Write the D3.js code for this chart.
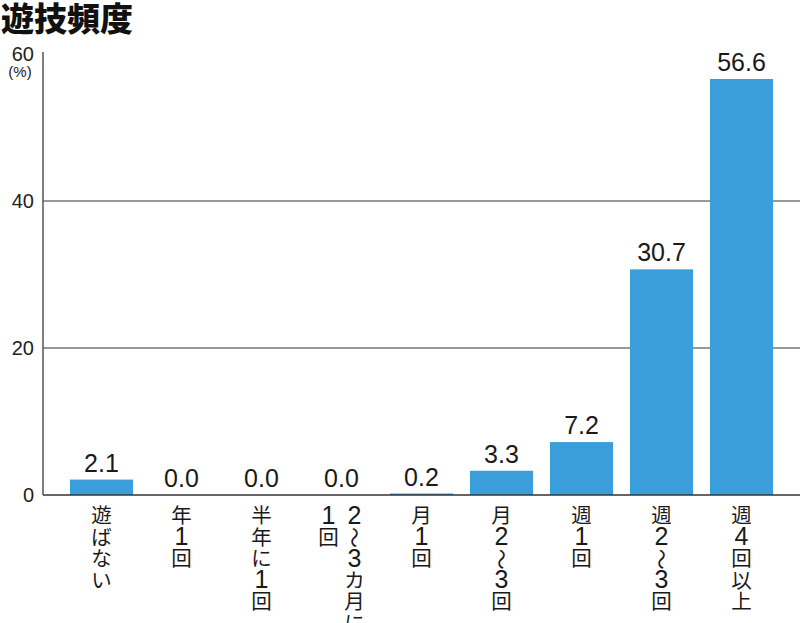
<!DOCTYPE html>
<html><head><meta charset="utf-8">
<script src="https://cdn.jsdelivr.net/npm/d3@7"></script>
<style>body{margin:0;background:#fff}</style>
</head><body>
<script>
const title = "遊技頻度";
const categories = ["遊ばない","年1回","半年に1回","2~3カ月に1回","月1回","月2~3回","週1回","週2~3回","週4回以上"];
// label columns (vertical writing, right column first)
const labelColumns = [["遊ばない"],["年1回"],["半年に1回"],["2~3カ月に","1回"],["月1回"],["月2~3回"],["週1回"],["週2~3回"],["週4回以上"]];
const values = [2.1,0.0,0.0,0.0,0.2,3.3,7.2,30.7,56.6];
const yTicks = [0,20,40,60];
const unit = "(%)";

const W=800,H=623;
const svg=d3.select("body").append("svg").attr("width",W).attr("height",H);
const jp="'Noto Sans CJK JP','Noto Sans',sans-serif";
const num="'Liberation Sans',Arial,sans-serif";

const y=d3.scaleLinear().domain([0,60]).range([495,54]);
const x=d3.scaleBand().domain(categories).range([61.5,781.5]).paddingInner(0.2125).paddingOuter(0.106);

svg.append("text").attr("x",1).attr("y",31).attr("font-family",jp).attr("font-weight",900)
  .attr("font-size",33).attr("fill","#111").text(title);

// gridlines
svg.append("g").selectAll("line").data(yTicks.filter(t=>t>0&&t<60)).join("line")
  .attr("x1",43).attr("x2",800).attr("y1",d=>y(d)).attr("y2",d=>y(d))
  .attr("stroke","#333").attr("stroke-width",1.2);
// axis line
svg.append("line").attr("x1",43).attr("x2",43).attr("y1",52).attr("y2",y(0)).attr("stroke","#555").attr("stroke-width",1.5);

// tick labels
svg.append("g").selectAll("text").data(yTicks).join("text")
  .attr("x",34).attr("y",d=>y(d)).attr("dy","0.36em").attr("text-anchor","end")
  .attr("font-family",num).attr("font-size",20).attr("fill","#222").text(d=>d);
svg.append("text").attr("x",20).attr("y",77).attr("text-anchor","middle")
  .attr("font-family",num).attr("font-size",15).attr("fill","#222").text(unit);

// bars
svg.append("g").selectAll("rect").data(values).join("rect")
  .attr("x",(d,i)=>x(categories[i])).attr("width",x.bandwidth())
  .attr("y",d=>Math.min(y(d),y(0)-1.5)).attr("height",d=>Math.max(y(0)-y(d),d>0?1.5:0))
  .attr("fill","#3a9edb");

svg.append("line").attr("x1",43).attr("x2",800).attr("y1",y(0)).attr("y2",y(0)).attr("stroke","#333").attr("stroke-width",1.5);

// value labels
svg.append("g").selectAll("text").data(values).join("text")
  .attr("x",(d,i)=>x(categories[i])+x.bandwidth()/2).attr("y",d=>y(d)-8)
  .attr("text-anchor","middle").attr("font-family",num).attr("font-size",25).attr("fill","#1a1a1a")
  .text(d=>d.toFixed(1));

// vertical category labels
const step=21.6, fs=20.5;
labelColumns.forEach((cols,i)=>{
  const cx=x(categories[i])+x.bandwidth()/2;
  const n=cols.length;
  cols.forEach((col,j)=>{
    const colX = n===1?cx:cx+ (n-1)*13 - j*26;
    const t=svg.append("text").attr("text-anchor","middle").attr("fill","#1a1a1a");
    Array.from(col).forEach((ch,k)=>{
      const cy=523+k*step;
      if(ch==="~"){
        svg.append("text").attr("text-anchor","middle").attr("font-family",jp).attr("font-size",21).attr("fill","#1a1a1a")
          .attr("transform",`translate(${colX},${cy-7}) rotate(90)`).attr("dy","0.35em").text("〜");
      } else {
        const isNum=/[0-9]/.test(ch);
        t.append("tspan").attr("x",colX).attr("y",cy+(isNum?0.5:0))
          .attr("font-family",isNum?num:jp).attr("font-size",isNum?25:fs).text(ch);
      }
    });
  });
});
</script>
</body></html>
